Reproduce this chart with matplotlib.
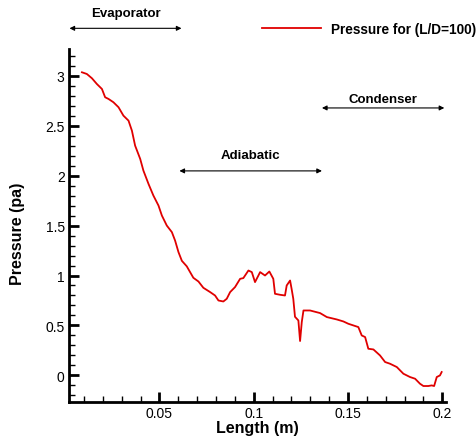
import matplotlib
matplotlib.use("Agg")
import matplotlib.pyplot as plt
from matplotlib.ticker import MultipleLocator

plt.rcParams['font.family'] = ['Liberation Sans', 'DejaVu Sans']

length_m = [0.0089, 0.0115, 0.0142, 0.0168, 0.0195, 0.0212, 0.0230, 0.0256, 0.0283, 0.0309,
            0.0336, 0.0354, 0.0371, 0.0398, 0.0415, 0.0442, 0.0468, 0.0495, 0.0513, 0.0539,
            0.0566, 0.0583, 0.0601, 0.0619, 0.0645, 0.0680, 0.0707, 0.0733, 0.0769, 0.0795,
            0.0813, 0.0839, 0.0857, 0.0875, 0.0901, 0.0928, 0.0945, 0.0972, 0.0990, 0.1007,
            0.1025, 0.1034, 0.1060, 0.1083, 0.1104, 0.1113, 0.1140, 0.1166, 0.1175, 0.1193,
            0.1201, 0.1210, 0.1219, 0.1237, 0.1246, 0.1255, 0.1264, 0.1299, 0.1352, 0.1388,
            0.1441, 0.1476, 0.1502, 0.1555, 0.1573, 0.1591, 0.1608, 0.1635, 0.1670, 0.1697,
            0.1723, 0.1759, 0.1794, 0.1829, 0.1856, 0.1882, 0.1900, 0.1926, 0.1944, 0.1957,
            0.1971, 0.1988, 0.1997]
pressure_pa = [3.034, 3.017, 2.974, 2.917, 2.867, 2.784, 2.767, 2.734, 2.684, 2.600,
               2.550, 2.450, 2.300, 2.167, 2.050, 1.917, 1.800, 1.700, 1.600, 1.500,
               1.434, 1.350, 1.234, 1.147, 1.092, 0.977, 0.940, 0.877, 0.834, 0.800,
               0.750, 0.740, 0.767, 0.834, 0.884, 0.967, 0.974, 1.050, 1.034, 0.934,
               1.000, 1.034, 1.000, 1.040, 0.967, 0.817, 0.807, 0.800, 0.900, 0.950,
               0.867, 0.767, 0.587, 0.550, 0.344, 0.534, 0.650, 0.650, 0.624, 0.584,
               0.560, 0.540, 0.517, 0.484, 0.400, 0.384, 0.267, 0.260, 0.200, 0.134,
               0.117, 0.084, 0.017, -0.016, -0.033, -0.083, -0.106, -0.106, -0.100, -0.106,
               -0.016, 0.000, 0.034]

series_label = "Pressure for (L/D=100)"
regions = ["Evaporator", "Adiabatic", "Condenser"]
region_start = [0.0023, 0.0606, 0.1362]
region_end = [0.0617, 0.1362, 0.2011]
region_y = [3.474, 2.047, 2.677]

W, H = 477, 439
AX_L, AX_R, AX_B, AX_T = 69.5, 446, 402.7, 50

fig = plt.figure(figsize=(W/100, H/100), dpi=100)
ax = fig.add_axes([AX_L/W, 1-AX_B/H, (AX_R-AX_L)/W, (AX_B-AX_T)/H])

ax.plot(length_m, pressure_pa, color='#e00000', lw=1.3, label=series_label)

ax.set_xlim(0.0023, 0.2020)
ax.set_ylim(-0.263, 3.267)
ax.xaxis.set_minor_locator(MultipleLocator(0.01))
ax.yaxis.set_minor_locator(MultipleLocator(0.1))
ax.set_xticks([0.05, 0.1, 0.15, 0.2])
ax.set_xticklabels(['0.05', '0.1', '0.15', '0.2'])
ax.set_yticks([0, 0.5, 1, 1.5, 2, 2.5, 3])
ax.set_yticklabels(['0', '0.5', '1', '1.5', '2', '2.5', '3'])

for s in ['top', 'right']:
    ax.spines[s].set_visible(False)
for s in ['left', 'bottom']:
    ax.spines[s].set_linewidth(2)
ax.tick_params(which='major', direction='in', length=7, width=2, labelsize=10)
ax.tick_params(axis='x', which='major', pad=3)
ax.tick_params(which='minor', direction='in', length=4, width=1)

ax.set_xlabel('Length (m)', fontsize=11.5, fontweight='bold')
ax.xaxis.label.set_verticalalignment('center')
ax.xaxis.set_label_coords(0.5, -(428.5-AX_B)/(AX_B-AX_T))
ax.set_ylabel('Pressure (pa)', fontsize=11.5, fontweight='bold')
ax.yaxis.label.set_verticalalignment('center')
ax.yaxis.set_label_coords((18-AX_L)/(AX_R-AX_L), (AX_B-234)/(AX_B-AX_T))

text_dy = [0.15, 0.16, 0.09]
for name, x0, x1, yv, dy in zip(regions, region_start, region_end, region_y, text_dy):
    ax.annotate('', xy=(x0, yv), xytext=(x1, yv), xycoords='data', annotation_clip=False,
                arrowprops=dict(arrowstyle='<|-|>', color='black', lw=0.8,
                                mutation_scale=7, shrinkA=0, shrinkB=0))
    ax.text((x0 + x1) / 2, yv + dy, name, ha='center', va='center', fontsize=9.5,
            fontweight='bold', clip_on=False)

leg = ax.legend(loc='center left', bbox_to_anchor=(262/W, 1-30/H),
                bbox_transform=fig.transFigure, frameon=False, borderpad=0,
                borderaxespad=0, handlelength=4.3, handletextpad=0.75,
                prop={'size': 9.8, 'weight': 'bold'})

fig.savefig('out.png', dpi=100)
